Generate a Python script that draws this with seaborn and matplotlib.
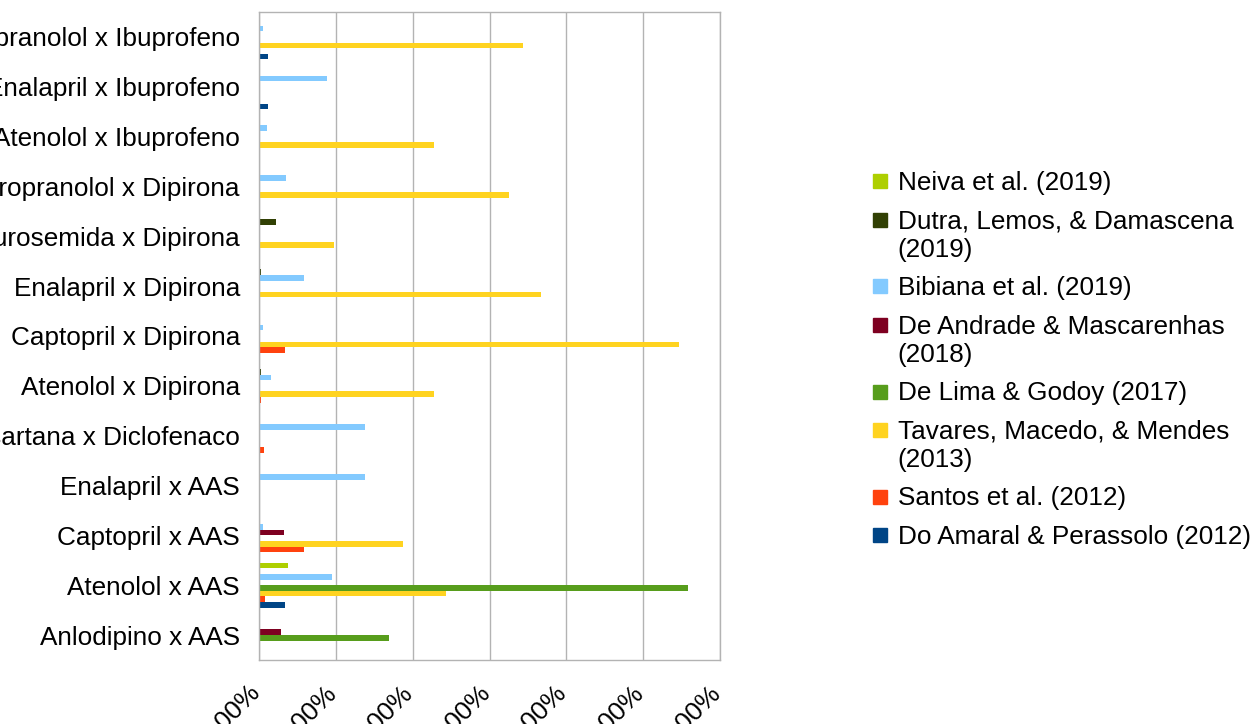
import numpy as np
import pandas as pd
import matplotlib
matplotlib.use("Agg")
import matplotlib.pyplot as plt
from matplotlib.lines import Line2D
from matplotlib.transforms import ScaledTranslation
import seaborn as sns

# === DATA (percent of interactions)
categories = [
    "Propranolol x Ibuprofeno", "Enalapril x Ibuprofeno", "Atenolol x Ibuprofeno",
    "Propranolol x Dipirona", "Furosemida x Dipirona", "Enalapril x Dipirona",
    "Captopril x Dipirona", "Atenolol x Dipirona", "Losartana x Diclofenaco",
    "Enalapril x AAS", "Captopril x AAS", "Atenolol x AAS", "Anlodipino x AAS",
]
series = [
    "Neiva et al. (2019)",
    "Dutra, Lemos, & Damascena\n(2019)",
    "Bibiana et al. (2019)",
    "De Andrade & Mascarenhas\n(2018)",
    "De Lima & Godoy (2017)",
    "Tavares, Macedo, & Mendes\n(2013)",
    "Santos et al. (2012)",
    "Do Amaral & Perassolo (2012)",
]
neiva      = [0, 0, 0, 0, 0, 0, 0, 0, 0, 0, 0, 3.8, 0]
dutra      = [0, 0, 0, 0, 2.2, 0.2, 0, 0.2, 0, 0, 0, 0, 0]
bibiana    = [0.5, 8.9, 1.1, 3.5, 0, 5.9, 0.5, 1.6, 13.8, 13.8, 0.5, 9.5, 0]
de_andrade = [0, 0, 0, 0, 0, 0, 0, 0, 0, 0, 3.2, 0, 2.9]
de_lima    = [0, 0, 0, 0, 0, 0, 0, 0, 0, 0, 0, 55.9, 16.9]
tavares    = [34.3, 0, 22.8, 32.5, 9.7, 36.7, 54.7, 22.8, 0, 0, 18.7, 24.3, 0]
santos     = [0, 0, 0, 0, 0, 0, 3.4, 0.3, 0.7, 0, 5.8, 0.8, 0]
do_amaral  = [1.2, 1.2, 0, 0, 0, 0, 0, 0, 0, 0, 0, 3.4, 0]

x_ticks = [0, 10, 20, 30, 40, 50, 60]
x_labels = ["0,00%", "10,00%", "20,00%", "30,00%", "40,00%", "50,00%", "60,00%"]

colors = ["#aecf00", "#314004", "#83caff", "#7e0021",
          "#579d1c", "#ffd320", "#ff420e", "#004586"]

# === LONG TABLE
all_vals = [neiva, dutra, bibiana, de_andrade, de_lima, tavares, santos, do_amaral]
df = pd.DataFrame({
    "Interacao": categories * len(series),
    "Estudo": [s for s in series for _ in categories],
    "Valor": [v for vals in all_vals for v in vals],
})

# === PLOT
sns.set_style("white")
plt.rcParams["font.family"] = ["Liberation Sans", "DejaVu Sans"]
plt.rcParams["text.color"] = "black"
plt.rcParams["xtick.labelcolor"] = "black"
plt.rcParams["ytick.labelcolor"] = "black"
GRAY = "#b3b3b3"
FS = 18.8

fig = plt.figure(figsize=(12.58, 7.24), dpi=100)
ax = fig.add_axes([259 / 1258, 1 - 660 / 724, (720 - 259) / 1258, (660 - 12) / 724])

sns.barplot(data=df, y="Interacao", x="Valor", hue="Estudo", order=categories,
            hue_order=series, palette=dict(zip(series, colors)), orient="h",
            width=0.9, errorbar=None, linewidth=0, saturation=1, legend=False, ax=ax)

ax.set_xlim(0, 60)
ax.set_ylim(len(categories) - 0.5, -0.5)
ax.set_xlabel("")
ax.set_ylabel("")
ax.set_xticks(x_ticks)
ax.set_xticklabels(x_labels, rotation=45, ha="right", va="top", fontsize=FS)
ax.tick_params(axis="x", length=8.6, width=1, color=GRAY, pad=6)
ax.tick_params(axis="y", which="major", length=0, pad=13.7, labelsize=FS)
ax.set_yticks(np.arange(len(categories) + 1) - 0.5, minor=True)
ax.tick_params(axis="y", which="minor", length=8, width=1, color=GRAY)
ax.xaxis.grid(True, color=GRAY, linewidth=1)
ax.yaxis.grid(False)
ax.set_axisbelow(True)
for sp in ax.spines.values():
    sp.set_visible(True)
    sp.set_color(GRAY)
    sp.set_linewidth(1)

# nudge rotated tick labels to the right like the original
for lbl in ax.get_xticklabels():
    lbl.set_transform(lbl.get_transform() + ScaledTranslation(5 / 100, 0, fig.dpi_scale_trans))

handles = [Line2D([], [], marker="s", linestyle="", markersize=10, color=c) for c in colors]
leg = fig.legend(handles, series, loc="center left", bbox_to_anchor=(860 / 1258, 1 - 360 / 724),
                 frameon=False, fontsize=FS, handlelength=0.55, handleheight=1.0,
                 handletextpad=0.4, labelspacing=0.56, borderpad=0)
for col in leg._legend_handle_box.get_children():
    for row in col.get_children():
        row.align = "top"

fig.savefig("out.png", dpi=100)
plt.close()
